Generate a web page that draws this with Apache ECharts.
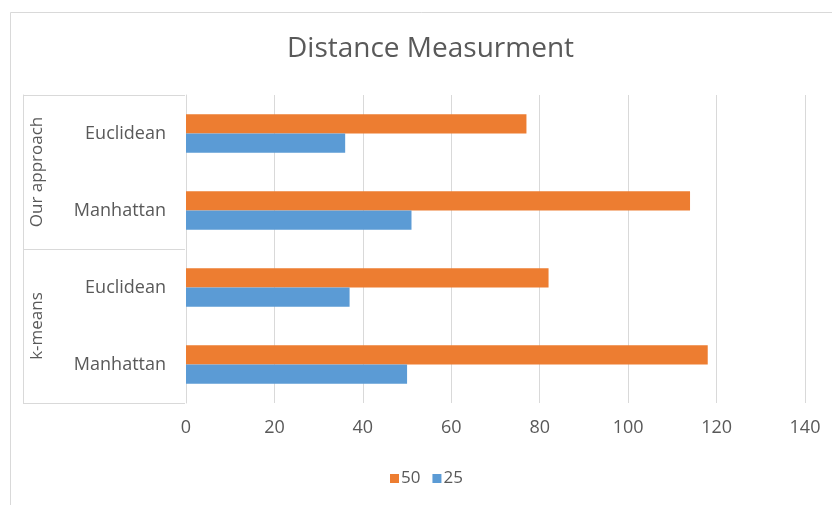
<!DOCTYPE html>
<html>
<head>
<meta charset="utf-8">
<title>Distance Measurment</title>
<script src="https://cdn.jsdelivr.net/npm/echarts@6/dist/echarts.min.js"></script>
<style>
  html, body { margin: 0; padding: 0; background: #fff; }
  #chart { width: 832px; height: 505px; }
</style>
</head>
<body>
<div id="chart"></div>
<script>
// Inner category labels, listed bottom to top
var methods = ['Manhattan', 'Euclidean', 'Manhattan', 'Euclidean'];
// Outer group labels, bottom to top
var groups = ['k-means', 'Our approach'];
// Series values, same order as methods
var values50 = [118, 82, 114, 77];
var values25 = [50, 37, 51, 36];
// Value axis ticks
var xTicks = [0, 20, 40, 60, 80, 100, 120, 140];

var textColor = '#595959';
var lineColor = '#d9d9d9';
var font = 'Open Sans';

var chart = echarts.init(document.getElementById('chart'), null, { renderer: 'canvas' });

chart.setOption({
  backgroundColor: '#ffffff',
  animation: false,
  textStyle: { fontFamily: font },
  title: {
    text: 'Distance Measurment',
    left: 282,
    top: 30,
    textStyle: { fontFamily: font, fontSize: 28, fontWeight: 'normal', color: textColor }
  },
  graphic: [{
    type: 'rect',
    shape: { x: 10.5, y: 12.5, width: 840, height: 520 },
    style: { fill: 'none', stroke: lineColor, lineWidth: 1 },
    silent: true
  }],
  legend: {
    data: ['50', '25'],
    left: 385,
    top: 465,
    icon: 'rect',
    itemWidth: 9,
    itemHeight: 9,
    itemGap: 12,
    textStyle: { fontFamily: font, fontSize: 17, color: textColor, padding: [0, 0, 0, -3] }
  },
  grid: { left: 186, right: 27, top: 95, bottom: 102, containLabel: false },
  xAxis: {
    type: 'value',
    min: xTicks[0],
    max: xTicks[xTicks.length - 1],
    interval: xTicks[1] - xTicks[0],
    axisLine: { show: false },
    axisTick: { show: false },
    splitLine: { show: true, lineStyle: { color: lineColor, width: 1 } },
    axisLabel: { margin: 16, fontFamily: font, fontSize: 18, color: textColor }
  },
  yAxis: [{
    type: 'category',
    data: methods,
    axisLine: { show: true, lineStyle: { color: lineColor } },
    axisTick: { show: false },
    axisLabel: { margin: 20, fontFamily: font, fontSize: 18, color: textColor }
  }, {
    type: 'category',
    data: groups,
    position: 'left',
    offset: 163,
    axisLine: { show: true, lineStyle: { color: lineColor } },
    axisTick: { show: true, inside: true, length: 162, interval: 0, lineStyle: { color: lineColor } },
    axisLabel: { inside: true, rotate: 90, margin: 6, fontFamily: font, fontSize: 17, color: textColor }
  }],
  // The first series sits on top within each band
  series: [{
    name: '50',
    type: 'bar',
    yAxisIndex: 0,
    data: values50,
    itemStyle: { color: '#ed7d31' },
    barGap: '0%',
    barCategoryGap: '50%'
  }, {
    name: '25',
    type: 'bar',
    yAxisIndex: 0,
    data: values25,
    itemStyle: { color: '#5b9bd5' },
    barGap: '0%',
    barCategoryGap: '50%'
  }]
});
</script>
</body>
</html>
